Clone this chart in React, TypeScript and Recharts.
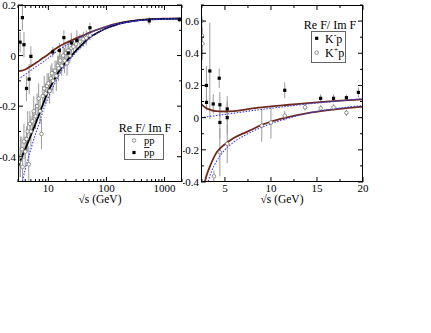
import { ComposedChart, Line, Scatter, XAxis, YAxis, ErrorBar } from 'recharts'

// ---- left panel: Re F / Im F for pp and pbar-p, vs sqrt(s) on a log axis
// [sqrt s, value, error]
const ppPoints = [
  [3.1, -0.42, 0.06], [3.3, -0.4, 0.08], [3.5, -0.37, 0.05], [3.6, -0.44, 0.06],
  [3.8, -0.34, 0.07], [4.0, -0.38, 0.06], [4.2, -0.33, 0.05], [4.4, -0.3, 0.08],
  [4.6, -0.43, 0.07], [4.8, -0.27, 0.05], [5.0, -0.3, 0.06], [5.3, -0.26, 0.04],
  [5.6, -0.22, 0.06], [6.0, -0.24, 0.05], [6.4, -0.2, 0.05], [6.8, -0.17, 0.06],
  [7.2, -0.22, 0.05], [7.6, -0.31, 0.06], [8.0, -0.16, 0.04], [8.5, -0.13, 0.05],
  [9.0, -0.15, 0.04], [9.5, -0.12, 0.05], [10, -0.11, 0.04], [10.5, -0.14, 0.05],
  [11, -0.09, 0.05], [11.5, -0.07, 0.04], [12, -0.1, 0.05], [13, -0.06, 0.04],
  [13.7, -0.08, 0.06], [14.5, -0.04, 0.04], [15, -0.05, 0.05], [16, -0.02, 0.05],
  [17, -0.04, 0.04], [18, 0.0, 0.04], [19, -0.02, 0.05], [20, 0.01, 0.04],
  [21, -0.03, 0.05], [22, 0.02, 0.04], [23.5, 0.0, 0.03], [25, 0.03, 0.04],
  [27, 0.035, 0.03], [30, 0.045, 0.03], [35, 0.055, 0.03], [40, 0.065, 0.03],
  [45, 0.07, 0.03], [52, 0.08, 0.02],
]
const pbarpPoints = [
  [3.26, 0.053, 0.04], [3.57, 0.15, 0.05], [3.8, 0.043, 0.05], [4.2, -0.13, 0.05],
  [4.67, -0.093, 0.06], [5.0, -0.003, 0.04], [11.9, 0.014, 0.02], [15.5, 0.02, 0.03],
  [18.5, 0.071, 0.03], [22, 0.01, 0.03], [24.8, 0.05, 0.04], [31, 0.06, 0.04],
  [52, 0.11, 0.02], [546, 0.137, 0.015], [1800, 0.142, 0.01],
]
// fitted curves [sqrt s, value]
const pbarpFit = [
  [3, -0.062], [3.5, -0.06], [4, -0.055], [5, -0.042], [6, -0.03], [7, -0.02],
  [8, -0.01], [10, 0.005], [12, 0.02], [15, 0.035], [20, 0.05], [25, 0.06],
  [30, 0.068], [40, 0.08], [50, 0.09], [70, 0.103], [100, 0.115], [150, 0.126],
  [200, 0.132], [300, 0.138], [500, 0.143], [1000, 0.146], [2000, 0.147],
]
const pbarpFitAlt = [
  [3, -0.092], [4, -0.075], [5, -0.058], [6, -0.045], [7, -0.035], [8, -0.026],
  [10, -0.01], [12, 0.005], [15, 0.022], [20, 0.04], [25, 0.052], [30, 0.062],
  [40, 0.077], [50, 0.088], [70, 0.102], [100, 0.115], [150, 0.125], [200, 0.13],
  [300, 0.136], [500, 0.141], [1000, 0.144], [2000, 0.146],
]
const ppFit = [
  [3, -0.44], [3.5, -0.4], [4, -0.37], [5, -0.315], [6, -0.27], [7, -0.23],
  [8, -0.195], [10, -0.14], [12, -0.105], [15, -0.065], [20, -0.025], [25, 0.0],
  [30, 0.02], [40, 0.048], [50, 0.07], [70, 0.09], [100, 0.108], [150, 0.122],
  [200, 0.13], [300, 0.137], [500, 0.142], [1000, 0.145], [2000, 0.146],
]
const ppFitAlt = [
  [3.4, -0.52], [4, -0.45], [5, -0.37], [6, -0.31], [7, -0.265], [8, -0.222],
  [10, -0.165], [12, -0.125], [15, -0.08], [20, -0.035], [25, -0.008], [30, 0.012],
  [40, 0.043], [50, 0.066], [70, 0.09], [100, 0.108], [150, 0.122], [200, 0.13],
  [300, 0.137], [500, 0.142], [1000, 0.145], [2000, 0.146],
]
const leftXTicks = [3, 4, 5, 6, 7, 8, 9, 10, 20, 30, 40, 50, 60, 70, 80, 90, 100,
  200, 300, 400, 500, 600, 700, 800, 900, 1000, 2000]
const leftXLabels = [10, 100, 1000]
const leftYTicks = [-0.4, -0.3, -0.2, -0.1, 0, 0.1, 0.2]
const leftYLabels = [-0.4, -0.2, 0, 0.2]

// ---- right panel: K-p and K+p, linear axis
const kmPoints = [
  [2.99, 0.2, 0.12], [3.0, 0.095, 0.05], [3.36, 0.29, 0.3], [3.73, 0.085, 0.06],
  [4.38, 0.245, 0.06], [4.45, 0.08, 0.08], [4.45, -0.03, 0.1], [5.25, 0.054, 0.08],
  [5.25, 0.0, 0.1], [11.5, 0.17, 0.05], [15.4, 0.12, 0.025], [16.8, 0.12, 0.025],
  [18.2, 0.124, 0.02], [19.5, 0.157, 0.03],
]
const kpPoints = [
  [2.45, 0.6, 0.1], [2.5, 0.51, 0.12], [2.55, 0.46, 0.1], [3.8, -0.365, 0.035],
  [4.45, -0.215, 0.15], [5.25, -0.163, 0.12], [9.0, -0.05, 0.1], [10, -0.03, 0.1],
  [11.5, 0.012, 0.03], [13.7, 0.064, 0.02], [15.4, 0.058, 0.02], [16.8, 0.064, 0.02],
  [18.2, 0.03, 0.02],
]
const kmFit = [
  [2.4, 0.085], [2.7, 0.07], [3, 0.058], [3.5, 0.047], [4, 0.041], [5, 0.038],
  [6, 0.041], [7, 0.048], [8, 0.058], [10, 0.07], [12, 0.08], [14, 0.09],
  [16, 0.099], [18, 0.107], [20, 0.114],
]
const kmFitAlt = [
  [2.4, 0.0], [3, 0.005], [4, 0.013], [5, 0.02], [6, 0.028], [7, 0.036],
  [8, 0.044], [10, 0.058], [12, 0.072], [14, 0.085], [16, 0.096], [18, 0.107],
  [20, 0.118],
]
const kpFit = [
  [2.6, -0.45], [3, -0.36], [3.5, -0.285], [4, -0.225], [4.5, -0.19], [5, -0.165],
  [6, -0.125], [7, -0.098], [8, -0.072], [9, -0.045], [10, -0.025], [12, 0.005],
  [14, 0.028], [16, 0.045], [18, 0.058], [20, 0.068],
]
const kpFitAlt = [
  [2.9, -0.45], [3, -0.43], [3.5, -0.34], [4, -0.28], [4.5, -0.235], [5, -0.2],
  [6, -0.15], [7, -0.115], [8, -0.085], [10, -0.038], [12, -0.002], [14, 0.027],
  [16, 0.048], [18, 0.063], [20, 0.075],
]
const rightXTicks = [2.5, 5, 7.5, 10, 12.5, 15, 17.5, 20]
const rightXLabels = [5, 10, 15, 20]
const rightYTicks = [-0.4, -0.3, -0.2, -0.1, 0, 0.1, 0.2, 0.3, 0.4, 0.5, 0.6, 0.7]
const rightYLabels = [-0.4, -0.2, 0, 0.2, 0.4, 0.6]

const pts = (rows: number[][]) => rows.map(([x, y, e]) => ({ x, y, e }))
const crv = (rows: number[][]) => rows.map(([x, y]) => ({ x, y }))

const FONT = 'Liberation Serif'
const BROWN = '#6e2a1e'
const BLUE = '#3b3bff'
// plot box inside each chart svg
const TOP = 5
const BOTTOM = 182
const CHART_H = 215

const has = (list: number[], v: number) => list.some((l) => Math.abs(l - v) < 1e-9)

function xTick(labels: number[]) {
  return (props: any) => {
    const x = props.x
    const v = props.payload.value
    const major = has(labels, v)
    const len = major ? 5 : 3
    return (
      <g>
        <line x1={x} x2={x} y1={BOTTOM} y2={BOTTOM - len} stroke="#000" />
        <line x1={x} x2={x} y1={TOP} y2={TOP + len} stroke="#000" />
        {major && (
          <text x={x} y={BOTTOM + 10} textAnchor="middle" fontSize={11} fontFamily={FONT} fill="#000">
            {String(v)}
          </text>
        )}
      </g>
    )
  }
}

function yTick(left: number, right: number, labels: number[]) {
  return (props: any) => {
    const y = props.y
    const v = props.payload.value
    const major = has(labels, v)
    const len = major ? 5 : 3
    return (
      <g>
        <line x1={left} x2={left + len} y1={y} y2={y} stroke="#000" />
        <line x1={right} x2={right - len} y1={y} y2={y} stroke="#000" />
        {major && (
          <text x={left - 2} y={y + 4} textAnchor="end" fontSize={11} fontFamily={FONT} fill="#000">
            {String(v)}
          </text>
        )}
      </g>
    )
  }
}

const Square = (p: any) => <rect x={p.cx - 1.6} y={p.cy - 1.6} width={3.2} height={3.2} fill="#000" />
const Ring = (p: any) => <circle cx={p.cx} cy={p.cy} r={1.8} fill="#fff" stroke="#777" strokeWidth={0.8} />

export default function App() {
  const lineProps = { type: 'monotone' as const, dataKey: 'y', dot: false, isAnimationActive: false }
  return (
    <div style={{ position: 'absolute', left: 0, top: 0, width: 431, height: 333, background: '#fff' }}>
      <div style={{ position: 'absolute', left: 0, top: 0 }}>
        <ComposedChart width={200} height={CHART_H} margin={{ top: TOP, right: 18, bottom: 0, left: 0 }}>
          <XAxis
            dataKey="x" type="number" scale="log" domain={[3, 2000]} allowDataOverflow
            ticks={leftXTicks} interval={0} tickLine={false} axisLine={false} height={CHART_H - BOTTOM}
            tick={xTick(leftXLabels)}
          />
          <YAxis
            type="number" domain={[-0.5, 0.2]} allowDataOverflow ticks={leftYTicks} interval={0}
            tickLine={false} axisLine={false} width={18} tick={yTick(18, 182, leftYLabels)}
          />
          <Scatter data={pts(ppPoints)} dataKey="y" shape={Ring} isAnimationActive={false}>
            <ErrorBar dataKey="e" direction="y" width={0} stroke="#9a9a9a" strokeWidth={1} />
          </Scatter>
          <Scatter data={pts(pbarpPoints)} dataKey="y" shape={Square} isAnimationActive={false}>
            <ErrorBar dataKey="e" direction="y" width={0} stroke="#9a9a9a" strokeWidth={1} />
          </Scatter>
          <Line {...lineProps} data={crv(pbarpFit)} stroke={BROWN} strokeWidth={1.8} />
          <Line {...lineProps} data={crv(ppFit)} stroke="#000" strokeWidth={1.8} />
          <Line {...lineProps} data={crv(pbarpFitAlt)} stroke={BLUE} strokeWidth={1.1} strokeDasharray="1.5 1.5" />
          <Line {...lineProps} data={crv(ppFitAlt)} stroke={BLUE} strokeWidth={1.1} strokeDasharray="1.5 1.5" />
        </ComposedChart>
      </div>
      <div style={{ position: 'absolute', left: 183, top: 0 }}>
        <ComposedChart width={200} height={CHART_H} margin={{ top: TOP, right: 20, bottom: 0, left: 0 }}>
          <XAxis
            dataKey="x" type="number" domain={[2.4, 20]} allowDataOverflow
            ticks={rightXTicks} interval={0} tickLine={false} axisLine={false} height={CHART_H - BOTTOM}
            tick={xTick(rightXLabels)}
          />
          <YAxis
            type="number" domain={[-0.4, 0.7]} allowDataOverflow ticks={rightYTicks} interval={0}
            tickLine={false} axisLine={false} width={18} tick={yTick(18, 180, rightYLabels)}
          />
          <Scatter data={pts(kpPoints)} dataKey="y" shape={Ring} isAnimationActive={false}>
            <ErrorBar dataKey="e" direction="y" width={0} stroke="#9a9a9a" strokeWidth={1} />
          </Scatter>
          <Scatter data={pts(kmPoints)} dataKey="y" shape={Square} isAnimationActive={false}>
            <ErrorBar dataKey="e" direction="y" width={0} stroke="#9a9a9a" strokeWidth={1} />
          </Scatter>
          <Line {...lineProps} data={crv(kmFit)} stroke={BROWN} strokeWidth={1.8} />
          <Line {...lineProps} data={crv(kpFit)} stroke={BROWN} strokeWidth={1.8} />
          <Line {...lineProps} data={crv(kmFitAlt)} stroke={BLUE} strokeWidth={1.1} strokeDasharray="1.5 1.5" />
          <Line {...lineProps} data={crv(kpFitAlt)} stroke={BLUE} strokeWidth={1.1} strokeDasharray="1.5 1.5" />
        </ComposedChart>
      </div>
      <svg width={431} height={333} style={{ position: 'absolute', left: 0, top: 0, pointerEvents: 'none' }}>
        <g fill="none" stroke="#000" strokeWidth={1}>
          <rect x={18.5} y={TOP + 0.5} width={163} height={BOTTOM - TOP - 1} />
          <rect x={201.5} y={TOP + 0.5} width={161} height={BOTTOM - TOP - 1} />
        </g>
        <g fontFamily={FONT} fill="#000">
          <text x={100} y={203} fontSize={11.5} textAnchor="middle">√s (GeV)</text>
          <text x={282} y={203} fontSize={11.5} textAnchor="middle">√s (GeV)</text>

          {/* left legend */}
          <text x={145} y={132} fontSize={12} textAnchor="middle">Re F/ Im F</text>
          <rect x={124.5} y={134.5} width={39} height={25} fill="none" stroke="#666" />
          <circle cx={134} cy={140.5} r={1.8} fill="#fff" stroke="#777" strokeWidth={0.8} />
          <text x={144} y={143.5} fontSize={10.5}>pp</text>
          <rect x={132.4} y={150.9} width={3.2} height={3.2} fill="#000" />
          <line x1={144} x2={149.5} y1={147.5} y2={147.5} stroke="#000" strokeWidth={0.8} />
          <text x={144} y={156} fontSize={10.5}>pp</text>

          {/* right legend */}
          <text x={330} y={29} fontSize={12} textAnchor="middle">Re F/ Im F</text>
          <rect x={311.5} y={31.5} width={34} height={31} fill="none" stroke="#666" />
          <rect x={315.1} y={36.7} width={3.2} height={3.2} fill="#000" />
          <text x={325} y={43} fontSize={12}>
            K<tspan dy={-5} fontSize={8}>-</tspan><tspan dy={5}>p</tspan>
          </text>
          <circle cx={316.7} cy={52.7} r={1.8} fill="#fff" stroke="#777" strokeWidth={0.8} />
          <text x={325} y={57} fontSize={12}>
            K<tspan dy={-5} fontSize={8}>+</tspan><tspan dy={5}>p</tspan>
          </text>
        </g>
      </svg>
    </div>
  )
}
